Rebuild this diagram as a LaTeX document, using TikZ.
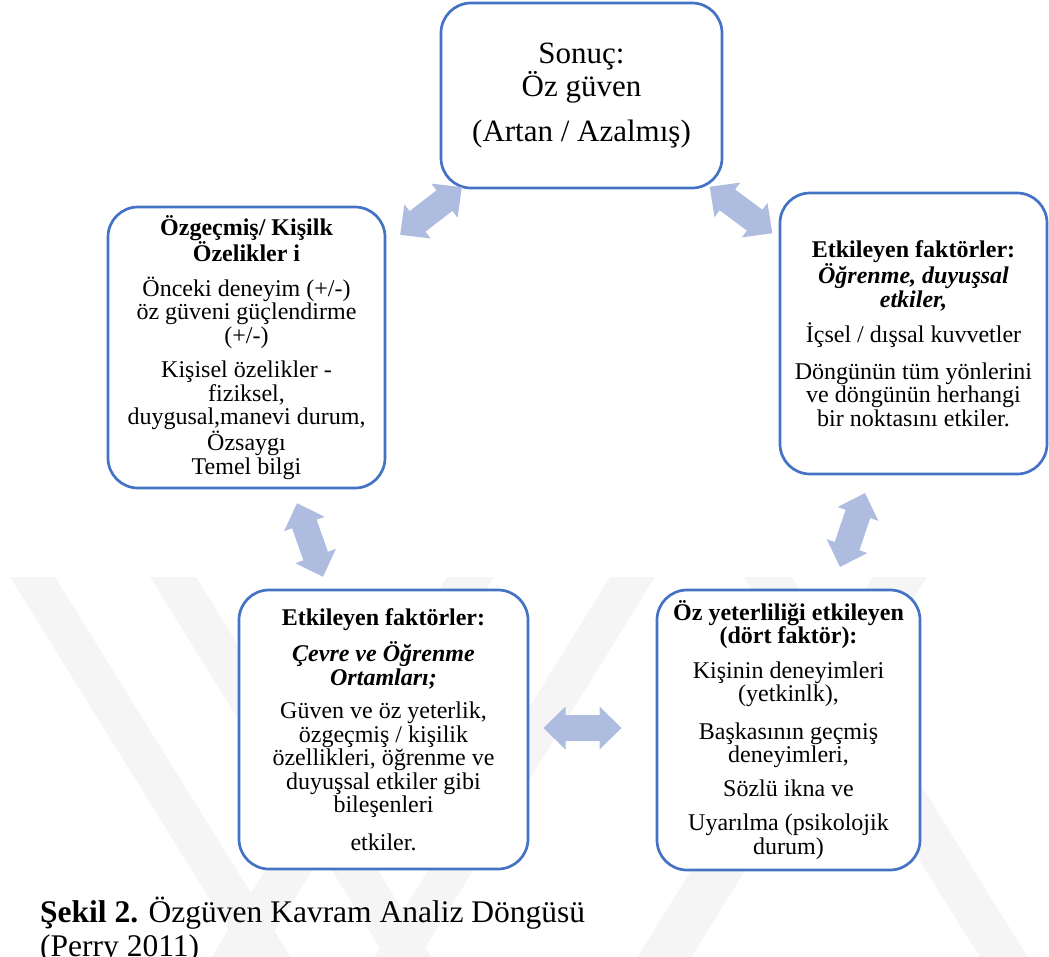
\documentclass[tikz,border=0pt]{standalone}
\usepackage{fontspec}
\setmainfont{Liberation Serif}
\definecolor{boxblue}{RGB}{68,114,196}
\definecolor{arrowfill}{RGB}{174,188,224}
\definecolor{wm}{RGB}{245,245,245}
\begin{document}
\begin{tikzpicture}[x=1pt,y=-1pt,
  box/.style={draw=boxblue, line width=2.7pt, rounded corners=30pt, fill=white,
    align=center, inner sep=0pt, font=\fontsize{24}{23.5}\selectfont},
  toptext/.style={font=\fontsize{31}{31}\selectfont},
  captext/.style={font=\fontsize{31.5}{35}\selectfont, inner sep=0pt},
  stripe/.style={fill=wm},
  fatarrow/.pic={\fill[arrowfill] (-39,0) -- (-17,-21.5) -- (-17,-13) -- (17,-13)
     -- (17,-21.5) -- (39,0) -- (17,21.5) -- (17,13) -- (-17,13) -- (-17,21.5) -- cycle;}
]
\useasboundingbox (0,0) rectangle (1049,956);
% watermark stripes
\fill[stripe] (10,577) -- (55,577) -- (10+248+45,977) -- (10+248,977) -- cycle;
\fill[stripe] (150,577) -- (196,577) -- (150+248+46,977) -- (150+248,977) -- cycle;
\fill[stripe] (447,577) -- (494,577) -- (494-248,977) -- (447-248,977) -- cycle;
\fill[stripe] (610,577) -- (655,577) -- (655-248,977) -- (610-248,977) -- cycle;
\fill[stripe] (744,577) -- (792,577) -- (792+248,977) -- (744+248,977) -- cycle;
\fill[stripe] (873,577) -- (927,577) -- (927-248,977) -- (873-248,977) -- cycle;

% boxes
\node[box, toptext, minimum width=281pt, minimum height=185pt] (top) at (581.5,95.5)
  {Sonuç:\\Öz güven\\[14pt](Artan / Azalmış)};
\node[box, minimum width=277pt, minimum height=281pt] (left) at (246.5,347.5)
  {\textbf{Özgeçmiş/ Kişilk}\\\textbf{Özelikler i}\\[11pt]
   Önceki deneyim (+/-)\\öz güveni güçlendirme\\(+/-)\\[11pt]
   Kişisel özelikler -\\fiziksel,\\duygusal,manevi durum,\\Özsaygı\\Temel bilgi};
\node[box, minimum width=267pt, minimum height=281pt] (right) at (913.5,333.5)
  {\textbf{Etkileyen faktörler:}\\\textbf{\textit{Öğrenme, duyuşsal}}\\\textbf{\textit{etkiler,}}\\[11pt]
   İçsel / dışsal kuvvetler\\[13pt]
   Döngünün tüm yönlerini\\ve döngünün herhangi\\bir noktasını etkiler.};
\node[box, minimum width=289pt, minimum height=279pt] (bl) at (383.5,729.5)
  {\textbf{Etkileyen faktörler:}\\[10pt]
   \textbf{\textit{Çevre ve Öğrenme}}\\\textbf{\textit{Ortamları;}}\\[10pt]
   Güven ve öz yeterlik,\\özgeçmiş / kişilik\\özellikleri, öğrenme ve\\duyuşsal etkiler gibi\\bileşenleri\\[14pt]
   etkiler.};
\node[box, minimum width=263pt, minimum height=280pt] (br) at (788.5,730)
  {\textbf{Öz yeterliliği etkileyen}\\\textbf{(dört faktör):}\\[11pt]
   Kişinin deneyimleri\\(yetkinlk),\\[14pt]
   Başkasının geçmiş\\deneyimleri,\\[10pt]
   Sözlü ikna ve\\[11pt]
   Uyarılma (psikolojik\\durum)};

% double arrows
\pic[rotate=37.7] (a1) at (431,211) {fatarrow};
\pic[rotate=-36.6] (a2) at (741,210) {fatarrow};
\pic[rotate=-70.6] (a3) at (310,540) {fatarrow};
\pic[rotate=71.3] (a4) at (852.5,530) {fatarrow};
\pic (a5) at (582.5,728) {fatarrow};

% caption
\node[captext, anchor=base west] (cap1) at (40,922) {\textbf{Şekil 2.} Özgüven Kavram Analiz Döngüsü};
\node[captext, anchor=base west] (cap2) at (40,956) {(Perry 2011)};
\end{tikzpicture}
\end{document}
